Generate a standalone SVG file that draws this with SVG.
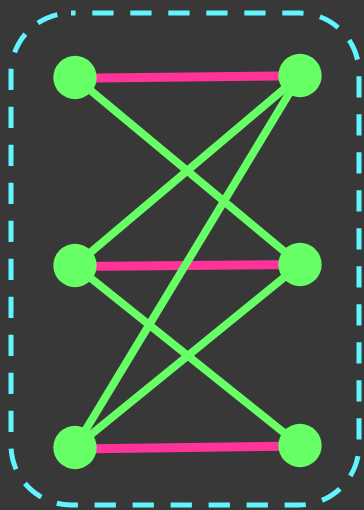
<svg xmlns="http://www.w3.org/2000/svg" width="364" height="510" viewBox="0 0 364 510">
  <style>
    .bg { fill: #383838; }
    .frame { fill: none; stroke: #61f5ff; stroke-width: 5; stroke-dasharray: 21.3 16.7; stroke-dashoffset: 16.7; }
    .pink { stroke: #ff3399; stroke-width: 9; fill: none; }
    .green { stroke: #66ff66; stroke-width: 8; fill: none; }
    .node { fill: #66ff66; }
  </style>
  <rect class="bg" x="0" y="0" width="364" height="510"/>
  <rect class="frame" x="11" y="13" width="348" height="492" rx="60" ry="60"/>
  <g id="connectors">
    <line class="pink" x1="75" y1="78.3" x2="300" y2="75.8"/>
    <line class="pink" x1="75" y1="266.5" x2="300" y2="264.5"/>
    <line class="pink" x1="75" y1="449" x2="300" y2="446"/>
    <line class="green" x1="75" y1="77.5" x2="300" y2="264.5"/>
    <line class="green" x1="300" y1="75.5" x2="75" y2="265.5"/>
    <line class="green" x1="300" y1="75.5" x2="75" y2="447.5"/>
    <line class="green" x1="75" y1="265.5" x2="300" y2="445.5"/>
    <line class="green" x1="300" y1="264.5" x2="75" y2="447.5"/>
  </g>
  <g id="node-tl"><circle class="node" cx="75" cy="77.5" r="21.7"/></g>
  <g id="node-tr"><circle class="node" cx="300" cy="75.5" r="21.7"/></g>
  <g id="node-ml"><circle class="node" cx="75" cy="265.5" r="21.7"/></g>
  <g id="node-mr"><circle class="node" cx="300" cy="264.5" r="21.7"/></g>
  <g id="node-bl"><circle class="node" cx="75" cy="447.5" r="21.7"/></g>
  <g id="node-br"><circle class="node" cx="300" cy="445.5" r="21.7"/></g>
</svg>
